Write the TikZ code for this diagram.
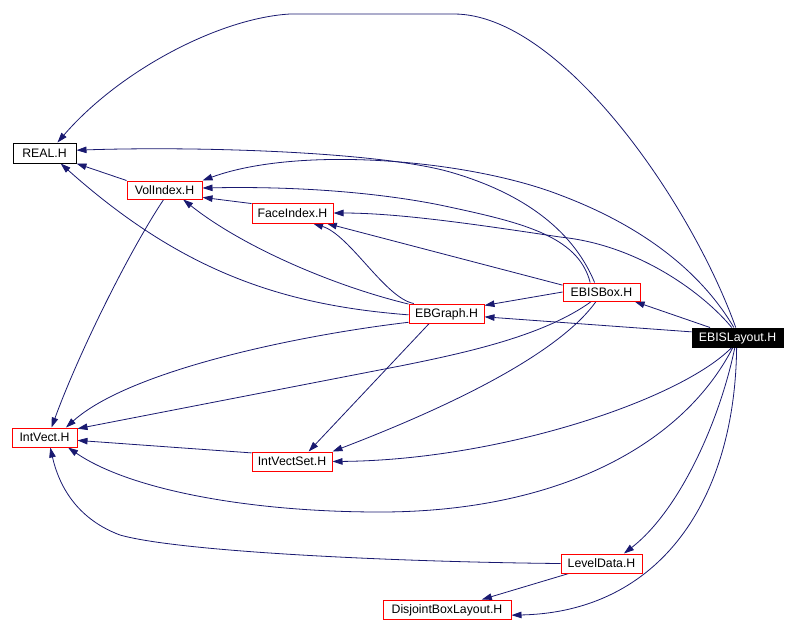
\documentclass[tikz,border=0pt]{standalone}
\usepackage{fontspec}
\setmainfont{Liberation Sans}
\usetikzlibrary{arrows.meta}
\definecolor{edgeblue}{HTML}{191970}
\pgfdeclarelayer{bg}
\pgfsetlayers{bg,main}
\begin{document}
\begin{tikzpicture}[x=1pt,y=-1pt,
  box/.style={draw=red, fill=white, line width=1pt, rectangle, inner sep=0pt, font=\fontsize{12.3}{14}\selectfont, text=black, text height=8.8pt, text depth=0pt},
  edge/.style={draw=edgeblue, line width=0.8pt, -{Triangle[length=10pt,width=6.5pt]}},
]
\useasboundingbox (0,0) rectangle (797,625);

\node[box, draw=black, minimum width=63pt, minimum height=20pt] (real) at (44.5,153) {REAL.H};
\node[box, minimum width=75pt, minimum height=18pt] (volidx) at (164.5,190) {VolIndex.H};
\node[box, minimum width=81pt, minimum height=20pt] (faceidx) at (292.5,213) {FaceIndex.H};
\node[box, minimum width=75pt, minimum height=19pt] (ebgraph) at (446.5,313.5) {EBGraph.H};
\node[box, minimum width=77pt, minimum height=18pt] (ebisb) at (601.5,292) {EBISBox.H};
\node[box, draw=black, fill=black, text=white, minimum width=91pt, minimum height=19pt] (ebisl) at (737.5,337.5) {EBISLayout.H};
\node[box, minimum width=65pt, minimum height=19pt] (intvect) at (44.5,437.5) {IntVect.H};
\node[box, minimum width=80pt, minimum height=19pt] (intvectset) at (292,461.5) {IntVectSet.H};
\node[box, minimum width=81pt, minimum height=19pt] (leveldata) at (601.5,563.5) {LevelData.H};
\node[box, minimum width=128pt, minimum height=19pt] (disjoint) at (447,609.5) {DisjointBoxLayout.H};

\begin{pgfonlayer}{bg}
\fill[white] (0,0) rectangle (797,625);
% EBISLayout -> REAL (top arc)
\draw[edge] (ebisl.100) .. controls (690,200) and (560,14) .. (454,14) -- (290,14) .. controls (220,18) and (120,70) .. (real.39);
% EBISBox -> REAL
\draw[edge] (ebisb.126) .. controls (575,235) and (530,195) .. (450,172) .. controls (380,152) and (200,146) .. (real.5);
% EBISLayout -> VolIndex
\draw[edge] (ebisl.110) .. controls (700,270) and (640,225) .. (560,195) .. controls (470,160) and (300,145) .. (volidx.north east);
% EBISBox -> VolIndex
\draw[edge] (ebisb.140) .. controls (578,235) and (520,222) .. (440,205) .. controls (380,193) and (300,186) .. (volidx.3);
% FaceIndex -> VolIndex
\draw[edge] (faceidx.167) -- (volidx.-11);
% EBGraph -> VolIndex
\draw[edge] (ebgraph.166) .. controls (330,285) and (240,245) .. (volidx.-27);
% EBGraph -> REAL
\draw[edge] (ebgraph.182) .. controls (280,305) and (180,270) .. (real.-33);
% VolIndex -> REAL
\draw[edge] (volidx.north west) -- (real.south east);
% EBISLayout -> FaceIndex
\draw[edge] (ebisl.120) .. controls (705,295) and (640,245) .. (560,237) .. controls (480,225) and (400,213) .. (faceidx.east);
% EBISBox -> FaceIndex
\draw[edge] (ebisb.170) -- (faceidx.-17);
% EBGraph -> FaceIndex
\draw[edge] (ebgraph.163) .. controls (385,298) and (350,235) .. (faceidx.-27);
% EBISBox -> EBGraph
\draw[edge] (ebisb.west) -- (ebgraph.12);
% EBISLayout -> EBGraph
\draw[edge] (ebisl.173) -- (ebgraph.-5);
% EBISLayout -> EBISBox
\draw[edge] (ebisl.160) -- (ebisb.-16);
% VolIndex -> IntVect
\draw[edge] (volidx.-95) .. controls (130,250) and (80,350) .. (intvect.55);
% EBGraph -> IntVect
\draw[edge] (ebgraph.193) .. controls (300,335) and (130,370) .. (intvect.25);
% EBISBox -> IntVect
\draw[edge] (ebisb.-137) .. controls (545,335) and (470,352) .. (400,366) -- (intvect.15);
% IntVectSet -> IntVect
\draw[edge] (intvectset.168) -- (intvect.-5);
% EBGraph -> IntVectSet
\draw[edge] (ebgraph.-150) -- (intvectset.31);
% EBISBox -> IntVectSet
\draw[edge] (ebisb.-120) .. controls (565,345) and (480,395) .. (intvectset.north east);
% EBISLayout -> IntVectSet
\draw[edge] (ebisl.-120) .. controls (680,400) and (500,460) .. (intvectset.east);
% EBISLayout -> IntVect
\draw[edge] (ebisl.-115) .. controls (680,450) and (550,512) .. (380,512) .. controls (250,512) and (130,490) .. (intvect.-23);
% LevelData -> IntVect
\draw[edge] (leveldata.west) .. controls (400,562) and (180,552) .. (120,535) .. controls (80,520) and (60,490) .. (intvect.-60);
% EBISLayout -> LevelData
\draw[edge] (ebisl.-105) .. controls (720,420) and (680,510) .. (leveldata.24);
% LevelData -> DisjointBoxLayout
\draw[edge] (leveldata.-163) -- (disjoint.16);
% EBISLayout -> DisjointBoxLayout
\draw[edge] (ebisl.-95) .. controls (735,500) and (660,612) .. (disjoint.-5);
\end{pgfonlayer}
\end{tikzpicture}
\end{document}
